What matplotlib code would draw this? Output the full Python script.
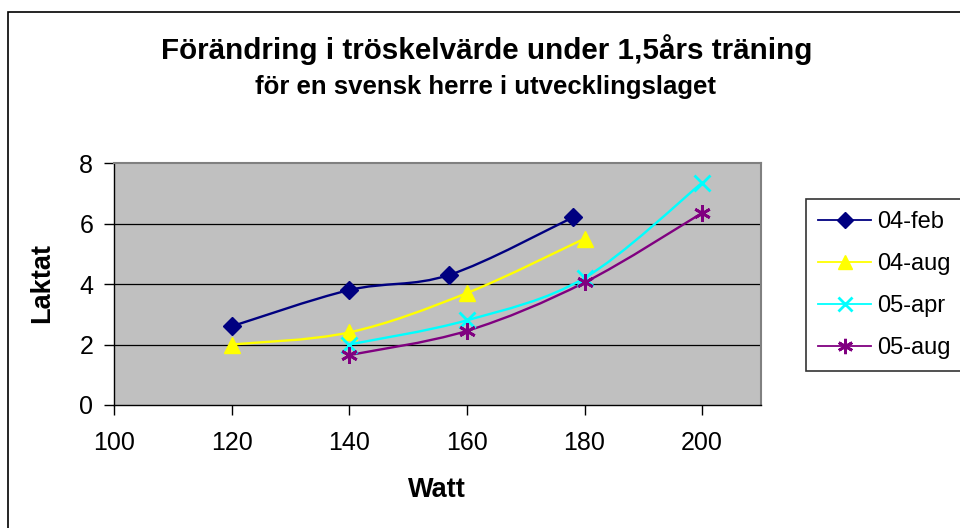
import matplotlib
matplotlib.use("Agg")
import matplotlib.pyplot as plt
from matplotlib.path import Path
from matplotlib.patches import PathPatch, Rectangle
from matplotlib.lines import Line2D

plt.rcParams['font.family'] = ['Liberation Sans', 'DejaVu Sans']

series_names = ["04-feb", "04-aug", "05-apr", "05-aug"]
x_feb04 = [120, 140, 157, 178]
y_feb04 = [2.6, 3.8, 4.3, 6.2]
x_aug04 = [120, 140, 160, 180]
y_aug04 = [2.0, 2.4, 3.7, 5.5]
x_apr05 = [140, 160, 180, 200]
y_apr05 = [2.0, 2.8, 4.2, 7.35]
x_aug05 = [140, 160, 180, 200]
y_aug05 = [1.65, 2.45, 4.05, 6.35]

colors = ["#000080", "#FFFF00", "#00FFFF", "#800080"]
markers = ["D", "^", "x", (6, 2, 0)]
msizes = [9, 11, 11, 12]

fig = plt.figure(figsize=(9.6, 5.28), dpi=100)
W, H = 960, 528

# outer chart border
fig.patches.append(Rectangle((8 / W, -0.1), 1.2, (528 - 12) / H + 0.1,
                             transform=fig.transFigure, fill=False,
                             edgecolor="black", linewidth=1.2))

ax = fig.add_axes([114 / W, 1 - 405 / H, (761 - 114) / W, (405 - 163) / H])
ax.set_facecolor("#C0C0C0")
ax.set_xlim(100, 210)
ax.set_ylim(0, 8)
ax.set_xticks([100, 120, 140, 160, 180, 200])
ax.set_yticks([0, 2, 4, 6, 8])
for yv in [2, 4, 6]:
    ax.axhline(yv, color="black", linewidth=0.9, zorder=1)
for s in ["top", "right"]:
    ax.spines[s].set_color("#808080")
    ax.spines[s].set_linewidth(1.5)
for s in ["left", "bottom"]:
    ax.spines[s].set_color("black")
    ax.spines[s].set_linewidth(1.0)
ax.tick_params(direction="out", length=7, width=1, labelsize=18)
ax.tick_params(axis="x", pad=12)
ax.tick_params(axis="y", pad=8)


def smooth_path(xs, ys):
    pts = list(zip(xs, ys))
    verts = [pts[0]]
    codes = [Path.MOVETO]
    n = len(pts)
    for i in range(n - 1):
        p0 = pts[i - 1] if i > 0 else pts[i]
        p1 = pts[i]
        p2 = pts[i + 1]
        p3 = pts[i + 2] if i + 2 < n else pts[i + 1]
        c1 = (p1[0] + (p2[0] - p0[0]) / 6, p1[1] + (p2[1] - p0[1]) / 6)
        c2 = (p2[0] - (p3[0] - p1[0]) / 6, p2[1] - (p3[1] - p1[1]) / 6)
        verts += [c1, c2, p2]
        codes += [Path.CURVE4] * 3
    return Path(verts, codes)


data = [(x_feb04, y_feb04), (x_aug04, y_aug04), (x_apr05, y_apr05), (x_aug05, y_aug05)]
handles = []
for (xs, ys), c, m, ms, name in zip(data, colors, markers, msizes, series_names):
    ax.add_patch(PathPatch(smooth_path(xs, ys), fill=False, edgecolor=c,
                           linewidth=1.7, zorder=3))
    mew = 2 if m in ("x",) or isinstance(m, tuple) else 1
    ax.plot(xs, ys, linestyle="none", marker=m, markersize=ms, color=c,
            markeredgewidth=mew, zorder=4)
    handles.append(Line2D([], [], color=c, marker=m, markersize=ms - 1,
                          markeredgewidth=mew, linewidth=1.3, label=name))

ax.set_xlabel("Watt", fontsize=19.5, fontweight="bold")
ax.set_ylabel("Laktat", fontsize=19.5, fontweight="bold")
ax.xaxis.set_label_coords((437 - 114) / 647, (405 - 490) / 242)
ax.xaxis.label.set_va("center")
ax.yaxis.set_label_coords((42 - 114) / 647, (405 - 283) / 242)
ax.yaxis.label.set_va("center")

fig.text(487 / W, 1 - 50 / H, "Förändring i tröskelvärde under 1,5års träning",
         ha="center", va="center", fontsize=21.3, fontweight="bold")
fig.text(485 / W, 1 - 87 / H, "för en svensk herre i utvecklingslaget",
         ha="center", va="center", fontsize=18.5, fontweight="bold")

leg = fig.legend(handles=handles, loc="upper left",
                 bbox_to_anchor=(806 / W, 1 - 199 / H), bbox_transform=fig.transFigure,
                 fontsize=17, frameon=True, fancybox=False, edgecolor="black",
                 handlelength=2.25, handletextpad=0.25, labelspacing=0.84,
                 borderpad=0.52, borderaxespad=0)
leg.get_frame().set_linewidth(1.2)

fig.savefig("out.png", dpi=100)
